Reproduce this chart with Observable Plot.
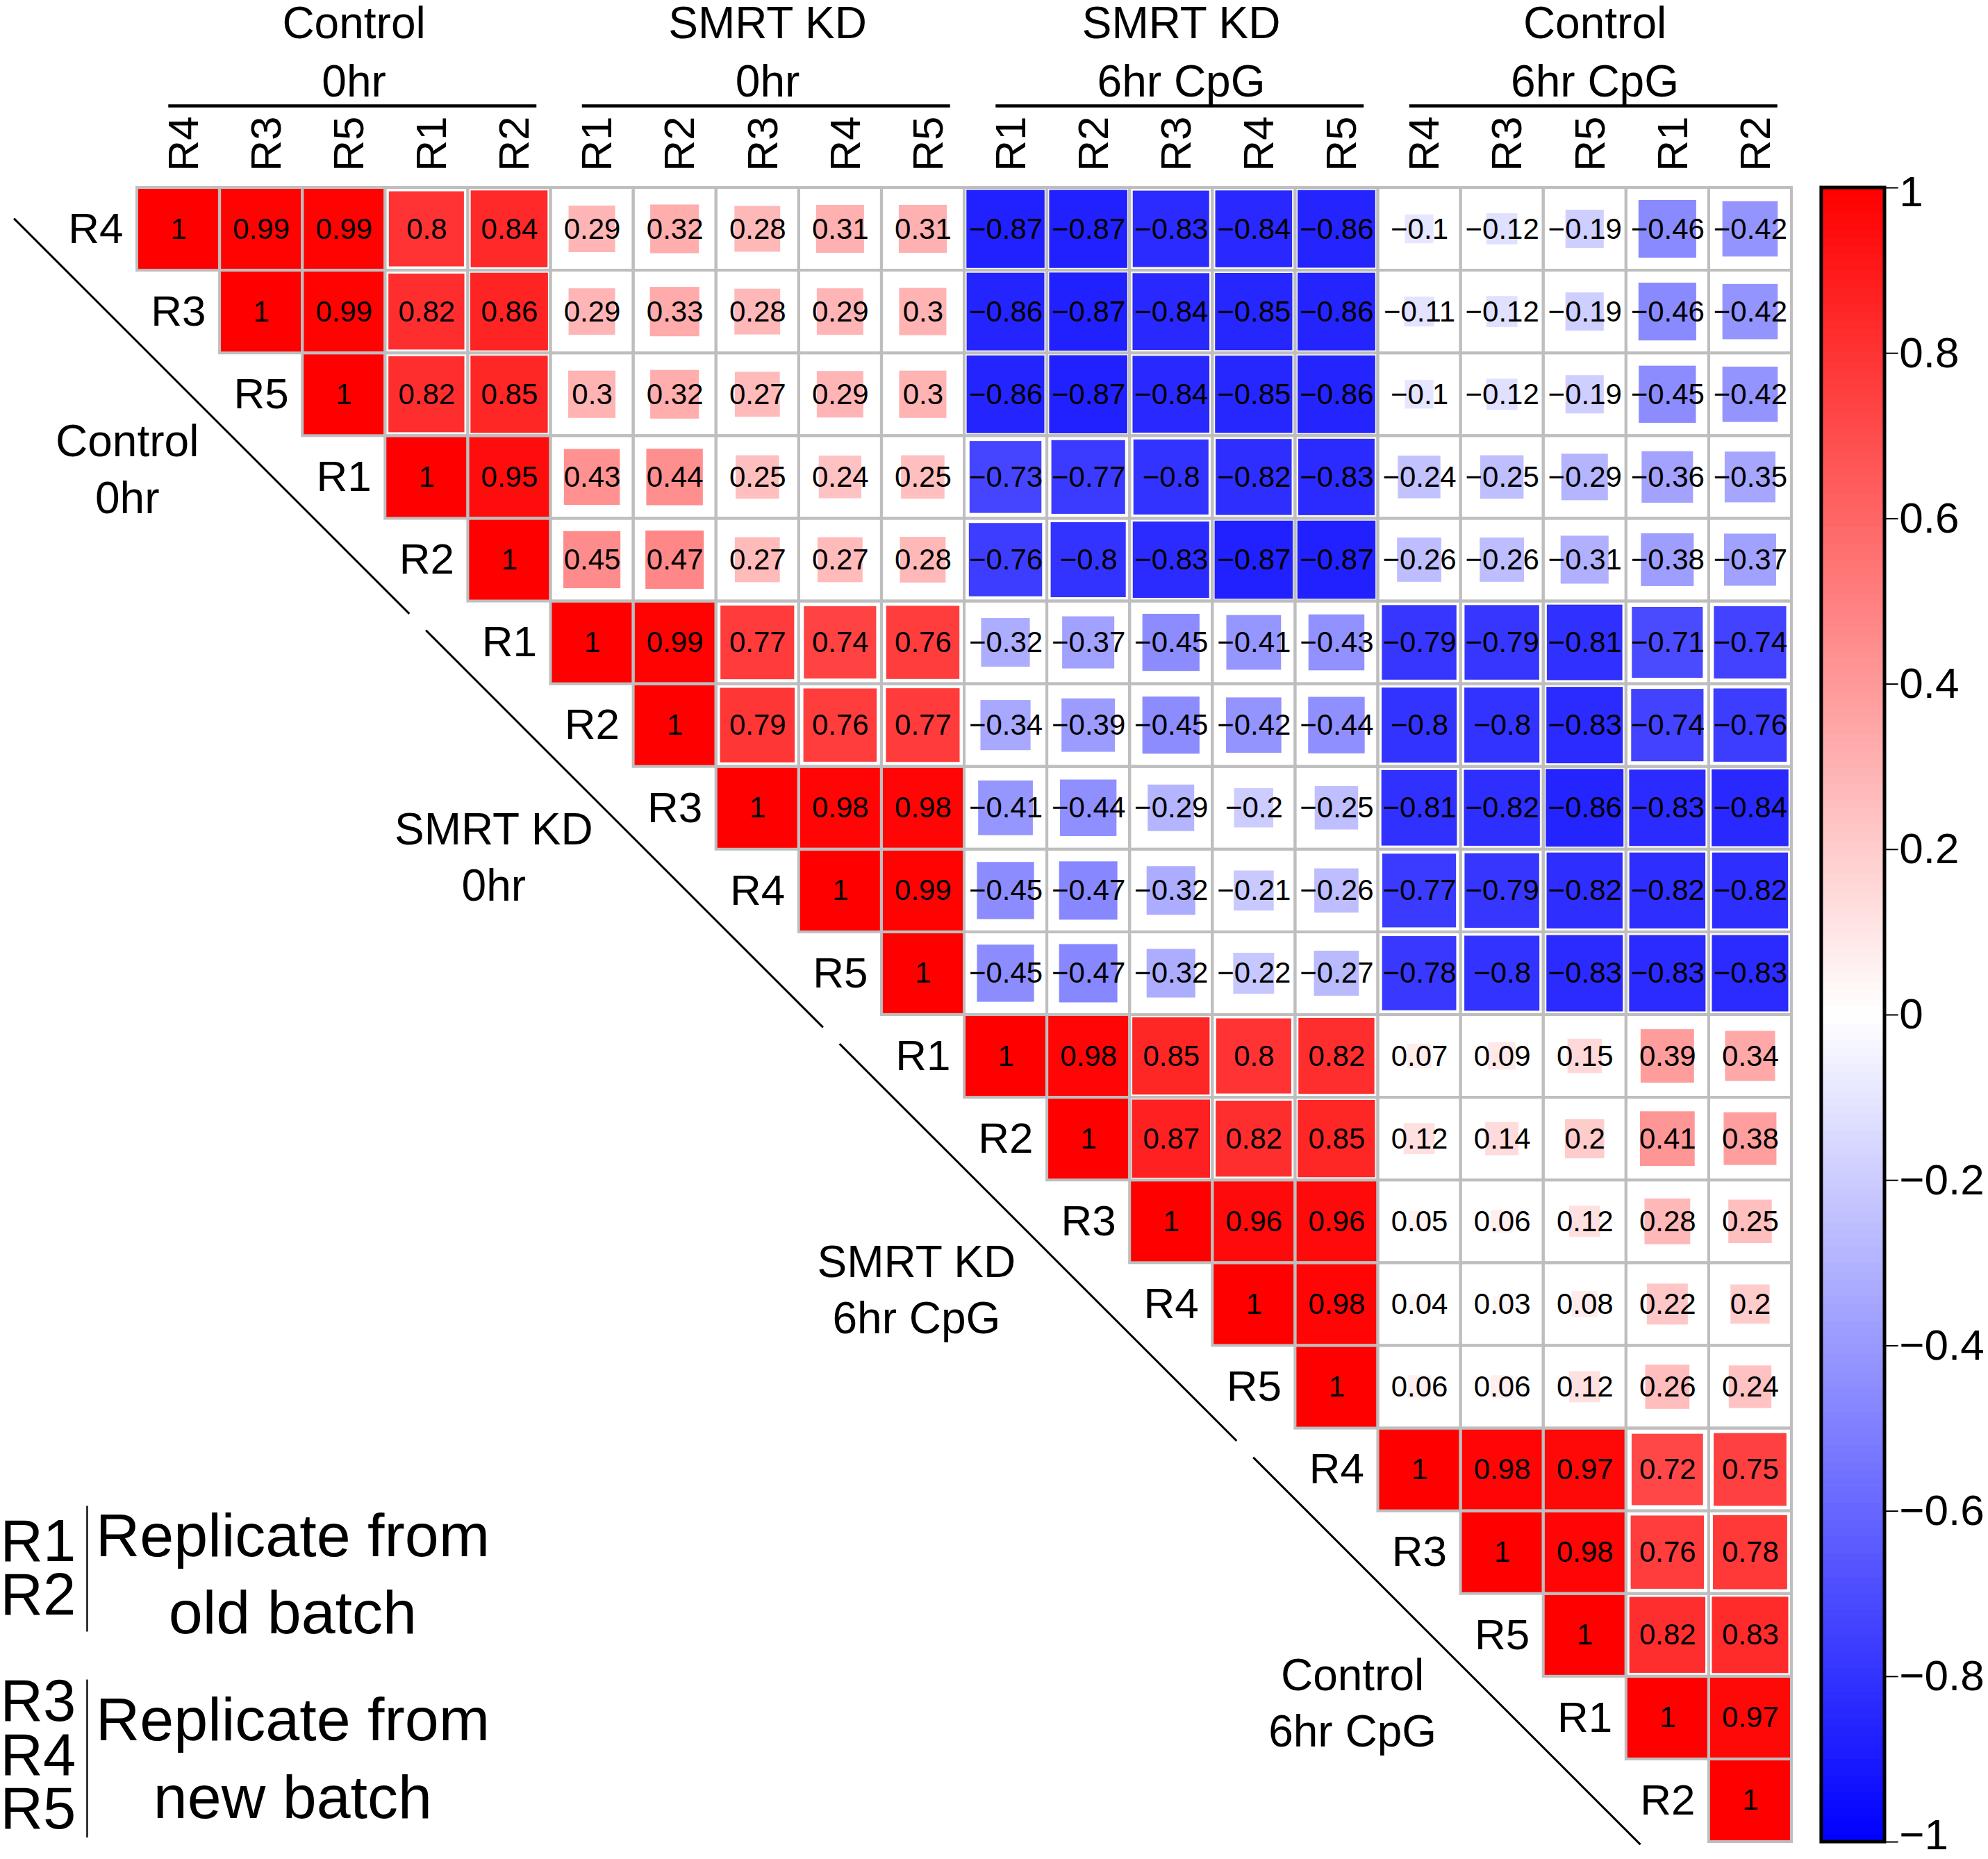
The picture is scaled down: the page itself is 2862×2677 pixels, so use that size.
<!DOCTYPE html>
<html>
<head>
<meta charset="utf-8">
<script src="https://cdn.jsdelivr.net/npm/d3@7"></script>
<script src="https://cdn.jsdelivr.net/npm/@observablehq/plot@0.6"></script>
<style>
  html, body { margin: 0; padding: 0; background: #ffffff; }
  #chart svg { display: block; }
</style>
</head>
<body>
<div id="chart"></div>
<script>
// ---------------- DATA ----------------
const groupNames = ["Control\n0hr", "SMRT KD\n0hr", "SMRT KD\n6hr CpG", "Control\n6hr CpG"];
const groupReplicates = [
  ["R4", "R3", "R5", "R1", "R2"],
  ["R1", "R2", "R3", "R4", "R5"],
  ["R1", "R2", "R3", "R4", "R5"],
  ["R4", "R3", "R5", "R1", "R2"]
];
// Upper triangle of the correlation matrix: row r holds columns r..19
const upperTriangle = [
  [1, 0.99, 0.99, 0.8, 0.84, 0.29, 0.32, 0.28, 0.31, 0.31, -0.87, -0.87, -0.83, -0.84, -0.86, -0.1, -0.12, -0.19, -0.46, -0.42],
  [1, 0.99, 0.82, 0.86, 0.29, 0.33, 0.28, 0.29, 0.3, -0.86, -0.87, -0.84, -0.85, -0.86, -0.11, -0.12, -0.19, -0.46, -0.42],
  [1, 0.82, 0.85, 0.3, 0.32, 0.27, 0.29, 0.3, -0.86, -0.87, -0.84, -0.85, -0.86, -0.1, -0.12, -0.19, -0.45, -0.42],
  [1, 0.95, 0.43, 0.44, 0.25, 0.24, 0.25, -0.73, -0.77, -0.8, -0.82, -0.83, -0.24, -0.25, -0.29, -0.36, -0.35],
  [1, 0.45, 0.47, 0.27, 0.27, 0.28, -0.76, -0.8, -0.83, -0.87, -0.87, -0.26, -0.26, -0.31, -0.38, -0.37],
  [1, 0.99, 0.77, 0.74, 0.76, -0.32, -0.37, -0.45, -0.41, -0.43, -0.79, -0.79, -0.81, -0.71, -0.74],
  [1, 0.79, 0.76, 0.77, -0.34, -0.39, -0.45, -0.42, -0.44, -0.8, -0.8, -0.83, -0.74, -0.76],
  [1, 0.98, 0.98, -0.41, -0.44, -0.29, -0.2, -0.25, -0.81, -0.82, -0.86, -0.83, -0.84],
  [1, 0.99, -0.45, -0.47, -0.32, -0.21, -0.26, -0.77, -0.79, -0.82, -0.82, -0.82],
  [1, -0.45, -0.47, -0.32, -0.22, -0.27, -0.78, -0.8, -0.83, -0.83, -0.83],
  [1, 0.98, 0.85, 0.8, 0.82, 0.07, 0.09, 0.15, 0.39, 0.34],
  [1, 0.87, 0.82, 0.85, 0.12, 0.14, 0.2, 0.41, 0.38],
  [1, 0.96, 0.96, 0.05, 0.06, 0.12, 0.28, 0.25],
  [1, 0.98, 0.04, 0.03, 0.08, 0.22, 0.2],
  [1, 0.06, 0.06, 0.12, 0.26, 0.24],
  [1, 0.98, 0.97, 0.72, 0.75],
  [1, 0.98, 0.76, 0.78],
  [1, 0.82, 0.83],
  [1, 0.97],
  [1]
];
const colorbarTicks = [1, 0.8, 0.6, 0.4, 0.2, 0, -0.2, -0.4, -0.6, -0.8, -1];
const legendReplicates = ["R1\nR2", "R3\nR4\nR5"];
const legendDescriptions = ["Replicate from\nold batch", "Replicate from\nnew batch"];

// ---------------- DERIVED TABLES ----------------
const labels = groupReplicates.flat();
const cells = [];
upperTriangle.forEach((row, r) => row.forEach((v, j) => cells.push({r, c: r + j, v})));
const side = v => Math.min(1, Math.sqrt(Math.abs(v)) * 0.97 + 0.04);
const fmt = v => String(v).replace("-", "\u2212");
const rampSteps = d3.range(200).map(i => -1 + (i + 0.5) / 100); // colour-bar ramp (legend only)
const innerTicks = colorbarTicks.filter(v => Math.abs(v) < 1);

// ---------------- LAYOUT (cell units) ----------------
const FONT = "'Liberation Sans', Arial, Helvetica, sans-serif";
const DIAG_OFFSET = -1.86;
const diagLabelNudgeX = [0.31, -0.26, -0.15, 0.12];
const diagLabelNudgeY = [0.08, -0.23, 0, 0];
const CB_X1 = 20.36, CB_X2 = 21.125, CB_TICK_X2 = 21.29, CB_LABEL_X = 21.3;
const vToRow = v => (1 - v) * 10;
const cbLabel = {x: () => CB_LABEL_X, y: v => vToRow(v), text: v => fmt(v), textAnchor: "start", fontSize: 62, fill: "#000"};

const chart = Plot.plot({
  width: 2862,
  height: 2677,
  marginLeft: 197,
  marginRight: 283,
  marginTop: 270,
  marginBottom: 25,
  x: {domain: [0, 20], axis: null},
  y: {domain: [0, 20], reverse: true, axis: null},
  color: {type: "linear", domain: [-1, 0, 1], range: ["#0000ff", "#ffffff", "#ff0000"], interpolate: "rgb"},
  style: {fontFamily: FONT, background: "#ffffff", color: "#000000", overflow: "visible"},
  marks: [
    // cell backgrounds
    Plot.rect(cells, {x1: d => d.c, x2: d => d.c + 1, y1: d => d.r, y2: d => d.r + 1, fill: "#ffffff"}),
    // coloured squares, area proportional to |r|
    Plot.rect(cells, {
      x1: d => d.c + 0.5 - side(d.v) / 2, x2: d => d.c + 0.5 + side(d.v) / 2,
      y1: d => d.r + 0.5 - side(d.v) / 2, y2: d => d.r + 0.5 + side(d.v) / 2,
      fill: d => d.v
    }),
    // grid
    Plot.rect(cells, {x1: d => d.c, x2: d => d.c + 1, y1: d => d.r, y2: d => d.r + 1, fill: "none", stroke: "#bebebe", strokeWidth: 4}),
    // values
    Plot.text(cells, {x: d => d.c + 0.5, y: d => d.r + 0.5, text: d => fmt(d.v), fontSize: 42, fill: "#000000"}),

    // column labels (rotated)
    Plot.text(labels, {x: (d, i) => i + 0.5, y: () => -0.2, text: d => d, rotate: -90, textAnchor: "start", fontSize: 62, dx: 8, fill: "#000"}),
    // row labels (staircase)
    Plot.text(labels, {x: (d, i) => i, y: (d, i) => i + 0.5, text: d => d, textAnchor: "end", fontSize: 62, dx: -20, fill: "#000"}),

    // group headers + underline
    Plot.text(groupNames, {x: (d, i) => 5 * i + 2.62, y: () => -1.68, text: d => d, fontSize: 64, lineHeight: 1.31, fill: "#000"}),
    Plot.ruleY(groupNames, {y: () => -0.99, x1: (d, i) => 5 * i + 0.38, x2: (d, i) => 5 * i + 4.83, stroke: "#000", strokeWidth: 4.5}),

    // diagonal group labels
    Plot.text(groupNames, {x: (d, i) => 5 * i - 0.43 + diagLabelNudgeX[i], y: (d, i) => 5 * i + 3.29 + diagLabelNudgeY[i], text: d => d, fontSize: 64, lineHeight: 1.27, fill: "#000"}),
    // diagonal line with gaps
    Plot.link(groupNames, {
      x1: (d, i) => (i === 0 ? 0.37 : 5 * i + 0.35) + DIAG_OFFSET,
      y1: (d, i) => (i === 0 ? 0.37 : 5 * i + 0.35),
      x2: (d, i) => (i === 3 ? 20.03 : 5 * i + 5.15) + DIAG_OFFSET,
      y2: (d, i) => (i === 3 ? 20.03 : 5 * i + 5.15),
      stroke: "#000", strokeWidth: 3
    }),

    // colour bar
    Plot.rect(rampSteps, {x1: () => CB_X1, x2: () => CB_X2, y1: v => vToRow(v + 0.005), y2: v => vToRow(v - 0.005), fill: v => v, stroke: v => v, strokeWidth: 1}),
    Plot.rect([0], {x1: () => CB_X1, x2: () => CB_X2, y1: () => 0, y2: () => 20, fill: "none", stroke: "#000", strokeWidth: 5}),
    Plot.ruleY(colorbarTicks, {y: v => vToRow(v), x1: () => CB_X2, x2: () => CB_TICK_X2, stroke: "#000", strokeWidth: 2}),
    Plot.text(innerTicks, cbLabel),
    Plot.text(colorbarTicks.filter(v => v === 1), {...cbLabel, dy: 7}),
    Plot.text(colorbarTicks.filter(v => v === -1), {...cbLabel, dy: -9}),

    // batch legend
    Plot.text(legendReplicates, {x: () => -1.654, y: (d, i) => i === 0 ? 16.72 : 18.98, text: d => d, textAnchor: "start", fontSize: 85, lineHeight: 0.91, fill: "#000"}),
    Plot.ruleX(legendReplicates, {x: () => -0.605, y1: (d, i) => i === 0 ? 15.94 : 18.04, y2: (d, i) => i === 0 ? 17.46 : 19.95, stroke: "#111", strokeWidth: 2.5}),
    Plot.text(legendDescriptions, {x: () => 1.88, y: (d, i) => i === 0 ? 16.71 : 18.94, text: d => d, fontSize: 88, lineHeight: 1.27, fill: "#000"})
  ]
});
document.getElementById("chart").appendChild(chart);
</script>
</body>
</html>
